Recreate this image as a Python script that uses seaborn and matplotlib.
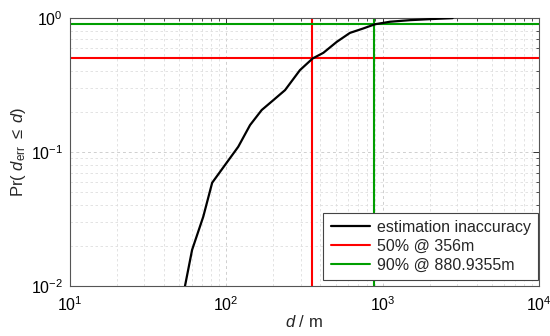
import numpy as np
import pandas as pd
import matplotlib
matplotlib.use("Agg")
import matplotlib.pyplot as plt
import seaborn as sns
from matplotlib.ticker import LogLocator, NullFormatter

# Data
dist_m = [54.5, 60.5, 71.3, 81.3, 98.2, 119.4, 142, 168.6, 200, 237.7, 296,
          357, 418, 509, 618, 753, 893, 1114, 1496, 2000, 2800]
prob = [0.010, 0.0186, 0.0329, 0.059, 0.080, 0.1096, 0.159, 0.206, 0.244, 0.290,
        0.409, 0.50, 0.551, 0.665, 0.776, 0.838, 0.90, 0.94, 0.966, 0.983, 1.0]
p50_value, p50_dist = 0.5, 356
p90_value, p90_dist = 0.9, 880.9355
legend_labels = ["estimation inaccuracy", "50% @ 356m", "90% @ 880.9355m"]

sns.set_style("white")
plt.rcParams['font.family'] = ['Liberation Sans', 'DejaVu Sans']
plt.rcParams['mathtext.fontset'] = 'custom'
plt.rcParams['mathtext.rm'] = 'Liberation Sans'
plt.rcParams['mathtext.it'] = 'Liberation Sans:italic'
plt.rcParams['mathtext.bf'] = 'Liberation Sans:bold'
plt.rcParams['axes.unicode_minus'] = False

fig = plt.figure(figsize=(5.5, 3.36), dpi=100)
ax = fig.add_axes([0.127, 0.149, 0.853, 0.797])

df = pd.DataFrame({"d": dist_m, "p": prob})
sns.lineplot(data=df, x="d", y="p", ax=ax, color="black", lw=1.6,
             label=legend_labels[0], zorder=3)
ax.axvline(p50_dist, color=(1, 0, 0), lw=1.5, label=legend_labels[1], zorder=2)
ax.axhline(p50_value, color=(1, 0, 0), lw=1.5, zorder=2)
ax.axvline(p90_dist, color=(0, 0.62, 0), lw=1.5, label=legend_labels[2], zorder=2)
ax.axhline(p90_value, color=(0, 0.62, 0), lw=1.5, zorder=2)

ax.set_xscale("log")
ax.set_yscale("log")
ax.set_xlim(10, 1e4)
ax.set_ylim(1e-2, 1)

ax.xaxis.set_major_locator(LogLocator(base=10, numticks=10))
ax.xaxis.set_minor_locator(LogLocator(base=10, subs=np.arange(2, 10), numticks=20))
ax.yaxis.set_major_locator(LogLocator(base=10, numticks=10))
ax.yaxis.set_minor_locator(LogLocator(base=10, subs=np.arange(2, 10), numticks=20))
ax.xaxis.set_minor_formatter(NullFormatter())
ax.yaxis.set_minor_formatter(NullFormatter())

ax.grid(True, which="major", ls=(0, (3, 3)), color="#cfcfcf", lw=0.7)
ax.grid(True, which="minor", ls=(0, (3, 3)), color="#dedede", lw=0.6)
ax.set_axisbelow(True)

ax.tick_params(which="both", direction="in", top=True, right=True,
               labelsize=11.5, colors="#333333", labelcolor="black")
ax.tick_params(axis="x", which="major", pad=7)
ax.tick_params(axis="y", which="major", pad=5)
ax.tick_params(which="major", length=4, width=0.7)
ax.tick_params(which="minor", length=2.5, width=0.6)
for s in ax.spines.values():
    s.set_color("#555555")
    s.set_linewidth(0.8)

ax.set_xlabel(r"$\mathit{d}$ / m", fontsize=12, labelpad=0)
ax.set_ylabel(r"Pr( $\mathit{d}_{\mathrm{err}}$ $\leq$ $\mathit{d}$)", fontsize=12, labelpad=2)

leg = ax.legend(loc="lower right", bbox_to_anchor=(0.998, 0.022),
                fontsize=11.5, frameon=True, fancybox=False,
                edgecolor="#444444", framealpha=1, borderaxespad=0,
                handlelength=2.5, handletextpad=0.4, labelspacing=0.25,
                borderpad=0.45)
leg.get_frame().set_linewidth(0.8)

fig.savefig("out.png", dpi=100)
